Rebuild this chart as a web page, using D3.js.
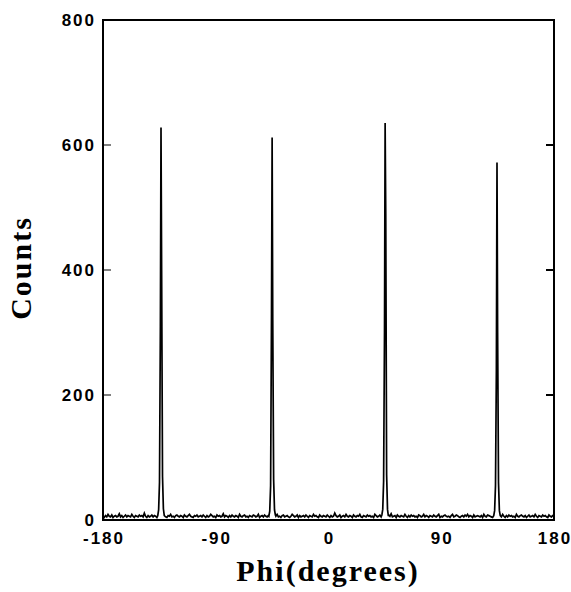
<!DOCTYPE html>
<html>
<head>
<meta charset="utf-8">
<script src="https://cdn.jsdelivr.net/npm/d3@7"></script>
<style>
  html, body { margin: 0; padding: 0; background: #fff; }
  svg { display: block; }
</style>
</head>
<body>
<div id="chart"></div>
<script>
// ---------- data ----------
const phiTicks = [-180, -90, 0, 90, 180];
const countTicks = [0, 200, 400, 600, 800];
const phiStart = -180;          // baseline samples every 1 degree
const baselineCounts = [
  6,4,7,5,9,6,5,8,4,6,7,5,6,10,5,7,4,6,8,5,
  7,6,5,9,6,4,7,6,5,8,6,7,5,11,6,4,7,5,6,8,
  5,7,6,4,9,6,5,7,6,8,5,4,7,6,9,5,6,4,7,8,
  6,5,7,6,4,8,6,5,7,9,6,5,4,7,6,8,5,6,7,5,
  8,6,4,7,5,6,9,7,5,6,4,8,6,7,5,6,10,5,7,6,
  4,7,5,8,6,5,7,6,4,9,6,5,7,8,5,6,4,7,6,5,
  8,7,5,6,9,4,6,7,5,8,6,5,7,4,6,8,5,7,6,9,
  5,6,4,7,8,5,6,7,5,4,6,9,7,5,6,8,4,7,5,6,
  7,5,8,6,4,7,6,5,9,6,7,5,4,8,6,5,7,6,5,8,
  6,4,7,5,6,11,7,5,6,8,4,6,7,5,9,6,5,7,6,4,
  8,6,5,7,6,9,5,4,7,6,5,8,6,7,5,6,4,9,7,5,
  6,8,5,7,4,6,7,5,8,6,10,5,6,7,4,8,6,5,7,6,
  5,9,6,4,7,5,8,6,7,5,6,4,8,7,5,6,9,5,7,6,
  4,7,6,5,8,6,5,7,9,4,6,5,7,8,6,5,6,4,7,9,
  5,6,8,7,5,4,6,7,5,8,6,9,5,7,6,4,8,5,6,7,
  6,5,7,4,9,6,5,8,7,6,5,4,7,6,8,5,6,7,5,9,
  6,4,7,5,8,6,7,5,6,4,9,6,5,7,8,6,5,7,4,6,
  8,5,6,7,5,9,6,4,7,6,5,8,6,7,5,4,8,6,5,7,
  6
];
// peaks: centre (degrees), offsets from centre and counts at those offsets
const peakCenters = [-133.7, -45.0, 45.2, 134.5];
const peakOffsets = [-2.6, -1.9, -1.2, -0.5, 0, 0.5, 1.2, 1.9, 2.6];
const peakCounts = [
  [7, 16, 60, 310, 628, 400, 70, 18, 7],
  [6, 14, 55, 330, 612, 320, 65, 16, 8],
  [8, 17, 62, 300, 635, 490, 72, 17, 6],
  [7, 15, 55, 240, 572, 300, 60, 15, 7]
];

// ---------- layout ----------
const W = 571, H = 592;
const mLeft = 103, mRight = 554, mTop = 20, mBottom = 520;

const svg = d3.select("#chart").append("svg")
  .attr("width", W).attr("height", H);

const x = d3.scaleLinear().domain([-180, 180]).range([mLeft, mRight]);
const y = d3.scaleLinear().domain([0, 800]).range([mBottom, mTop]);

// assemble series: baseline points outside peak windows + peak profile points
let pts = [];
baselineCounts.forEach((c, i) => {
  const phi = phiStart + i;
  if (!peakCenters.some(pc => Math.abs(phi - pc) <= 2.7)) pts.push([phi, c]);
});
peakCenters.forEach((pc, k) => {
  peakOffsets.forEach((o, j) => pts.push([pc + o, peakCounts[k][j]]));
});
pts.sort((a, b) => a[0] - b[0]);

const line = d3.line().x(d => x(d[0])).y(d => y(d[1]));

svg.append("path")
  .datum(pts)
  .attr("d", line)
  .attr("fill", "none")
  .attr("stroke", "#000")
  .attr("stroke-width", 1.7)
  .attr("stroke-linejoin", "miter");

// frame
svg.append("rect")
  .attr("x", mLeft).attr("y", mTop)
  .attr("width", mRight - mLeft).attr("height", mBottom - mTop)
  .attr("fill", "none").attr("stroke", "#000").attr("stroke-width", 2);

// y ticks (inward, both sides)
const yt = countTicks.filter(v => v > 0 && v < 800);
svg.selectAll(".ytl").data(yt).enter().append("line")
  .attr("x1", mLeft).attr("x2", mLeft + 8)
  .attr("y1", d => y(d)).attr("y2", d => y(d))
  .attr("stroke", "#000").attr("stroke-width", 1);
svg.selectAll(".ytr").data(yt).enter().append("line")
  .attr("x1", mRight - 8).attr("x2", mRight)
  .attr("y1", d => y(d)).attr("y2", d => y(d))
  .attr("stroke", "#000").attr("stroke-width", 2);

// y tick labels
svg.selectAll(".ylab").data(countTicks).enter().append("text")
  .attr("x", 96).attr("y", d => y(d))
  .attr("dy", "0.36em")
  .attr("text-anchor", "end")
  .attr("font-family", "'Liberation Sans', Arial, sans-serif")
  .attr("font-weight", "bold").attr("font-size", 17)
  .attr("letter-spacing", 2)
  .text(d => d);

// x tick labels
svg.selectAll(".xlab").data(phiTicks).enter().append("text")
  .attr("x", d => x(d) + 1).attr("y", 544)
  .attr("text-anchor", "middle")
  .attr("font-family", "'Liberation Sans', Arial, sans-serif")
  .attr("font-weight", "bold").attr("font-size", 17)
  .attr("letter-spacing", 2)
  .text(d => d);

// axis titles
svg.append("text")
  .attr("x", 328).attr("y", 581)
  .attr("text-anchor", "middle")
  .attr("font-family", "'Liberation Serif', 'Times New Roman', serif")
  .attr("font-weight", "bold").attr("font-size", 30)
  .attr("letter-spacing", 2)
  .text("Phi(degrees)");

svg.append("text")
  .attr("transform", "translate(31,268) rotate(-90)")
  .attr("text-anchor", "middle")
  .attr("font-family", "'Liberation Serif', 'Times New Roman', serif")
  .attr("font-weight", "bold").attr("font-size", 30)
  .attr("letter-spacing", 2)
  .text("Counts");
</script>
</body>
</html>
